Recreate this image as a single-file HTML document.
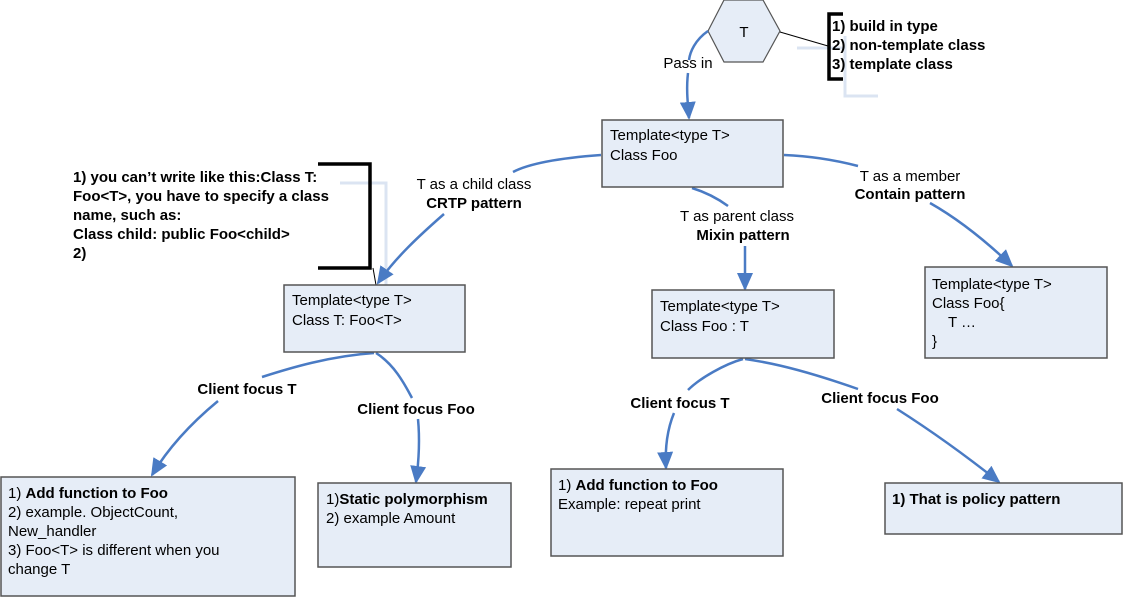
<!DOCTYPE html>
<html><head><meta charset="utf-8"><style>
html,body{margin:0;padding:0;background:#fff;}
svg{display:block;}
text{font-family:"Liberation Sans",Arial,sans-serif;font-size:15px;fill:#000;}
.b{font-weight:bold;}
.box{fill:#e6edf7;stroke:#555;stroke-width:1.5;}
.ar{fill:none;stroke:#4a7bc4;stroke-width:2.5;}
</style></head><body>
<svg width="1124" height="597" viewBox="0 0 1124 597" xmlns="http://www.w3.org/2000/svg">
<defs>
<marker id="A" markerWidth="18" markerHeight="16" refX="16" refY="8" orient="auto" markerUnits="userSpaceOnUse">
<path d="M0,0 L18,8 L0,16 z" fill="#4a7bc4"/></marker>
</defs>

<path d="M845,36 L845,96 L878,96" fill="none" stroke="#dbe4f2" stroke-width="3"/>
<path d="M797,48 L845,48" stroke="#dbe4f2" stroke-width="3"/>
<path d="M340,183 L386,183 L386,286" fill="none" stroke="#dbe4f2" stroke-width="3"/>

<polygon points="708,31 724,0 763,0 780,31 763,62 724,62" fill="#e6edf7" stroke="#555" stroke-width="1.2"/>
<text x="744" y="37" text-anchor="middle" font-size="16">T</text>
<line x1="780" y1="32" x2="828" y2="46" stroke="#000" stroke-width="1"/>
<path d="M843,14 L829,14 L829,79 L843,79" fill="none" stroke="#000" stroke-width="3.5"/>
<text class="b" x="832" y="31">1) build in type</text>
<text class="b" x="832" y="50">2) non-template class</text>
<text class="b" x="832" y="69">3) template class</text>

<path d="M318,164 L370,164 L370,268 L318,268" fill="none" stroke="#000" stroke-width="3.5"/>
<line x1="373" y1="268" x2="376" y2="285" stroke="#000" stroke-width="1"/>
<text class="b" x="73" y="182">1) you can’t write like this:Class T:</text>
<text class="b" x="73" y="201">Foo&lt;T&gt;, you have to specify a class</text>
<text class="b" x="73" y="220">name, such as:</text>
<text class="b" x="73" y="239">Class child: public Foo&lt;child&gt;</text>
<text class="b" x="73" y="258">2)</text>

<path class="ar" d="M708,31 C695,40 690,52 689,60" />
<path class="ar" d="M688,73 C686,90 688,105 689,118" marker-end="url(#A)"/>
<path class="ar" d="M601,155 C560,158 530,163 513,172"/>
<path class="ar" d="M444,214 C420,235 395,258 378,283" marker-end="url(#A)"/>
<path class="ar" d="M692,188 C705,192 717,198 728,206"/>
<path class="ar" d="M745,246 C745,260 745,275 745,289" marker-end="url(#A)"/>
<path class="ar" d="M784,155 C810,156 835,160 858,166"/>
<path class="ar" d="M930,203 C960,220 990,245 1012,266" marker-end="url(#A)"/>
<path class="ar" d="M374,353 C330,356 290,368 262,377"/>
<path class="ar" d="M218,401 C195,420 170,445 152,475" marker-end="url(#A)"/>
<path class="ar" d="M376,353 C395,365 405,385 412,398"/>
<path class="ar" d="M418,419 C420,440 419,460 416,482" marker-end="url(#A)"/>
<path class="ar" d="M743,359 C725,364 700,378 688,390"/>
<path class="ar" d="M674,413 C667,430 665,450 666,468" marker-end="url(#A)"/>
<path class="ar" d="M745,359 C780,364 815,374 858,389"/>
<path class="ar" d="M897,409 C930,430 965,455 999,482" marker-end="url(#A)"/>

<text x="688" y="68" text-anchor="middle">Pass in</text>
<text x="474" y="189" text-anchor="middle">T as a child class</text>
<text class="b" x="474" y="208" text-anchor="middle">CRTP pattern</text>
<text x="737" y="221" text-anchor="middle">T as parent class</text>
<text class="b" x="743" y="240" text-anchor="middle">Mixin pattern</text>
<text x="910" y="181" text-anchor="middle">T as a member</text>
<text class="b" x="910" y="199" text-anchor="middle">Contain pattern</text>
<text class="b" x="247" y="394" text-anchor="middle">Client focus T</text>
<text class="b" x="416" y="414" text-anchor="middle">Client focus Foo</text>
<text class="b" x="680" y="408" text-anchor="middle">Client focus T</text>
<text class="b" x="880" y="403" text-anchor="middle">Client focus Foo</text>

<rect class="box" x="602" y="120" width="181" height="67"/>
<text x="610" y="140">Template&lt;type T&gt;</text>
<text x="610" y="160">Class Foo</text>

<rect class="box" x="284" y="285" width="181" height="67"/>
<text x="292" y="305">Template&lt;type T&gt;</text>
<text x="292" y="325">Class T: Foo&lt;T&gt;</text>

<rect class="box" x="652" y="290" width="182" height="68"/>
<text x="660" y="311">Template&lt;type T&gt;</text>
<text x="660" y="331">Class Foo : T</text>

<rect class="box" x="925" y="267" width="182" height="91"/>
<text x="932" y="289">Template&lt;type T&gt;</text>
<text x="932" y="308">Class Foo{</text>
<text x="948" y="327">T …</text>
<text x="932" y="346">}</text>

<rect class="box" x="1" y="477" width="294" height="119"/>
<text x="8" y="498">1) <tspan class="b">Add function to Foo</tspan></text>
<text x="8" y="517">2) example. ObjectCount,</text>
<text x="8" y="536">New_handler</text>
<text x="8" y="555">3) Foo&lt;T&gt; is different when you</text>
<text x="8" y="574">change T</text>

<rect class="box" x="318" y="483" width="193" height="84"/>
<text x="326" y="504">1)<tspan class="b">Static polymorphism</tspan></text>
<text x="326" y="523">2) example Amount</text>

<rect class="box" x="551" y="469" width="232" height="87"/>
<text x="558" y="490">1) <tspan class="b">Add function to Foo</tspan></text>
<text x="558" y="509">Example: repeat print</text>

<rect class="box" x="885" y="483" width="237" height="51"/>
<text class="b" x="892" y="504">1) That is policy pattern</text>
</svg>
</body></html>
